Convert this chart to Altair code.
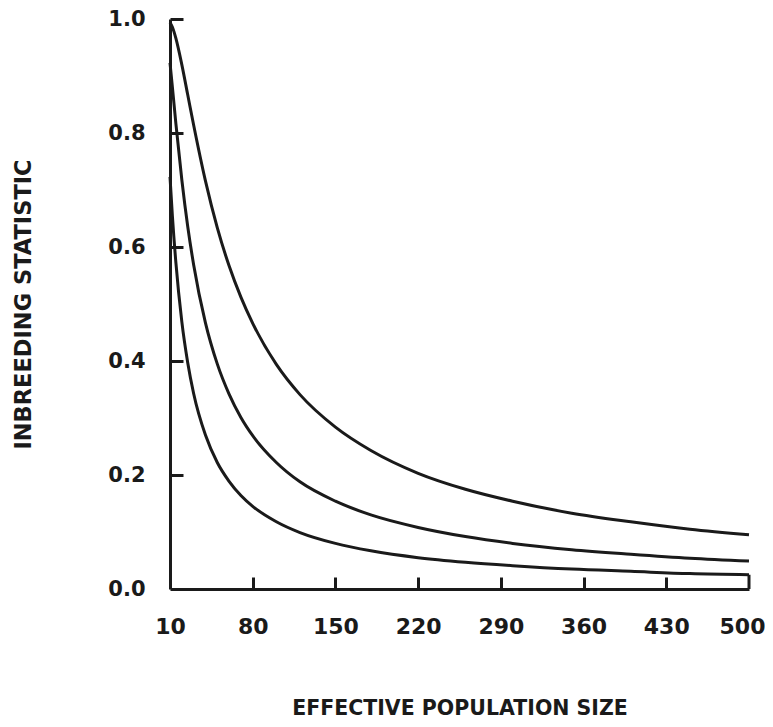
import altair as alt
import pandas as pd

# Effective population size (x) at which values were read
N = [10, 12, 15, 20, 25, 30, 40, 50, 60, 70, 80, 100, 120, 150, 180, 220, 260, 300, 350, 400, 450, 500]
# Three curves of the inbreeding statistic (top, middle, bottom)
F_top = [0.994, 0.986, 0.966, 0.920, 0.867, 0.814, 0.716, 0.634, 0.567, 0.512, 0.466, 0.394, 0.341,
         0.284, 0.243, 0.203, 0.175, 0.154, 0.133, 0.118, 0.105, 0.095]
F_mid = [0.923, 0.881, 0.816, 0.718, 0.636, 0.569, 0.467, 0.395, 0.342, 0.301, 0.269, 0.222, 0.188,
         0.154, 0.130, 0.108, 0.092, 0.080, 0.069, 0.061, 0.054, 0.049]
F_bot = [0.723, 0.655, 0.572, 0.469, 0.397, 0.343, 0.270, 0.222, 0.189, 0.164, 0.145, 0.118, 0.099,
         0.080, 0.067, 0.055, 0.047, 0.041, 0.035, 0.031, 0.027, 0.025]
series_names = ["top", "middle", "bottom"]

x_label_values = [10, 80, 150, 220, 290, 360, 430, 500]
x_tick_values = [80, 150, 220, 290, 360, 430]
y_label_values = [0.0, 0.2, 0.4, 0.6, 0.8, 1.0]
y_tick_values = [0.2, 0.4, 0.6, 0.8, 1.0]

rows = []
for name, vals in zip(series_names, [F_top, F_mid, F_bot]):
    for n, f in zip(N, vals):
        rows.append({"N": n, "F": f, "series": name})
df = pd.DataFrame(rows)

end_df = pd.DataFrame([{"N": N[-1], "F0": 0.0, "F1": F_bot[-1]}])

W, H = 579, 570
INK = "#1a1a1a"
FONT = "DejaVu Sans"

xscale = alt.Scale(domain=[10, 500], nice=False, zero=False)
yscale = alt.Scale(domain=[0, 1], nice=False, zero=True)

lines = alt.Chart(df).mark_line(color=INK, strokeWidth=3, interpolate="monotone").encode(
    x=alt.X("N:Q", scale=xscale,
            axis=alt.Axis(values=x_label_values, format="d", title="EFFECTIVE POPULATION SIZE",
                          orient="bottom", grid=False, ticks=False, domainWidth=3, domainColor=INK,
                          labelFont=FONT, labelFontWeight="bold", labelFontSize=22, labelColor=INK,
                          labelPadding=27, labelFlush=False, labelOverlap=False,
                          labelOffset={"condition": {"test": "datum.value == 500", "value": -7}, "value": 0},
                          titleFont=FONT, titleFontWeight="bold", titleFontSize=20.5, titleColor=INK,
                          titlePadding=61)),
    y=alt.Y("F:Q", scale=yscale,
            axis=alt.Axis(values=y_label_values, format=".1f", title="INBREEDING STATISTIC",
                          orient="left", grid=False, ticks=False, domainWidth=3, domainColor=INK,
                          labelFont=FONT, labelFontWeight="bold", labelFontSize=21, labelColor=INK,
                          labelPadding=25, labelFlush=False, labelOverlap=False,
                          titleFont=FONT, titleFontWeight="bold", titleFontSize=22.5, titleColor=INK,
                          titlePadding=72)),
    detail="series:N",
)

end_rule = alt.Chart(end_df).mark_rule(color=INK, strokeWidth=3).encode(
    x=alt.X("N:Q", scale=xscale, axis=None),
    y=alt.Y("F0:Q", scale=yscale, axis=None),
    y2="F1:Q",
)

ticks = alt.Chart(df).mark_line(opacity=0).encode(
    x=alt.X("N:Q", scale=xscale,
            axis=alt.Axis(values=x_tick_values, orient="top", offset=-H, labels=False, domain=False,
                          grid=False, ticks=True, tickSize=12, tickWidth=3, tickColor=INK, title=None)),
    y=alt.Y("F:Q", scale=yscale,
            axis=alt.Axis(values=y_tick_values, orient="right", offset=-W, labels=False, domain=False,
                          grid=False, ticks=True, tickSize=13, tickWidth=3, tickColor=INK, title=None)),
    detail="series:N",
)

chart = alt.layer(lines, ticks, end_rule).resolve_axis(x="independent", y="independent").properties(
    width=W, height=H,
    autosize=alt.AutoSizeParams(type="none"),
    padding={"left": 162, "top": 11, "right": 16, "bottom": 130},
    background="white",
).configure_view(stroke=None)

chart.save("out.html", embed_options={"renderer": "svg", "actions": False})
